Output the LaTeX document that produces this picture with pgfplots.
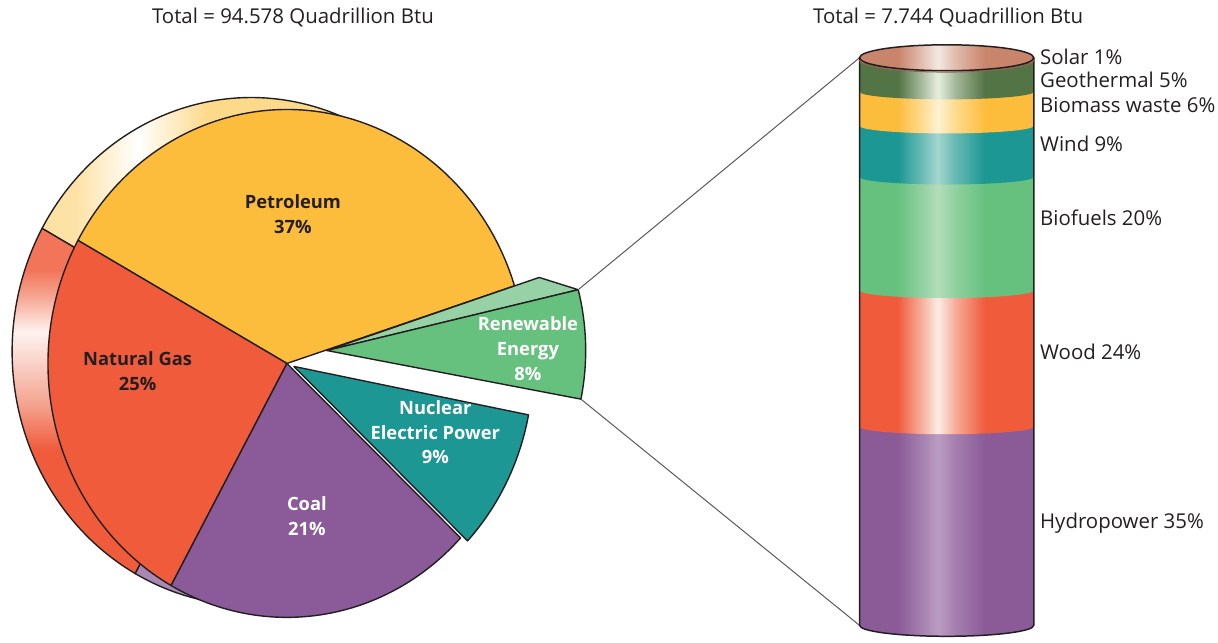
\documentclass[border=0pt]{standalone}
\usepackage{pgfplots}
\pgfplotsset{compat=1.18}
\usepackage{pgfplotstable}
\usepackage{fontspec}
\setmainfont{Open Sans}

\definecolor{petro}{HTML}{FCBD3C}
\definecolor{petroside}{HTML}{FDD98A}
\definecolor{gas}{HTML}{F05B3C}
\definecolor{gasL}{HTML}{F5A894}
\definecolor{coal}{HTML}{8A5B98}
\definecolor{coalside}{HTML}{A888B2}
\definecolor{nuc}{HTML}{1C9794}
\definecolor{ren}{HTML}{67C17E}
\definecolor{renside}{HTML}{96D2A5}
\definecolor{txt}{HTML}{231F20}
\definecolor{hydro}{HTML}{8B5B98}
\definecolor{hydroL}{HTML}{BA9CC2}
\definecolor{wood}{HTML}{F05B3C}
\definecolor{woodL}{HTML}{FBEDE4}
\definecolor{biof}{HTML}{66C17F}
\definecolor{biofL}{HTML}{B2DDBA}
\definecolor{wind}{HTML}{1C9794}
\definecolor{windL}{HTML}{A3D6CE}
\definecolor{biom}{HTML}{FDBD3C}
\definecolor{biomL}{HTML}{FDF2D2}
\definecolor{geo}{HTML}{537444}
\definecolor{geoL}{HTML}{E6EEDF}
\definecolor{solar}{HTML}{C9846C}
\definecolor{solarL}{HTML}{F3E9E2}

\newcommand\cylshade[3]{%
  \pgfdeclarehorizontalshading{#1}{100bp}{color(0bp)=(#2); color(36bp)=(#2); color(42.5bp)=(#2!45!#3); color(47.5bp)=(#3); color(52.5bp)=(#2!45!#3); color(61bp)=(#2); color(100bp)=(#2)}}
\cylshade{shHydro}{hydro}{hydroL}
\cylshade{shWood}{wood}{woodL}
\cylshade{shBiof}{biof}{biofL}
\cylshade{shWind}{wind}{windL}
\cylshade{shBiom}{biom}{biomL}
\cylshade{shGeo}{geo}{geoL}
\cylshade{shSolar}{solar}{solarL}
\pgfdeclarehorizontalshading{shPetSide}{100bp}{color(0bp)=(petroside); color(29bp)=(petroside!75!white); color(36bp)=(white); color(44bp)=(petroside); color(100bp)=(petroside)}
\pgfdeclareverticalshading{shGasSide}{100bp}{color(0bp)=(gas); color(43bp)=(gas); color(50bp)=(gasL); color(60bp)=(white!92!gas); color(65bp)=(gasL); color(69bp)=(gas!85!white); color(100bp)=(gas!85!white)}

\pgfplotstableread{
source pct
Renewable 8
Petroleum 37
NaturalGas 25
Coal 21
Nuclear 9
}\piedata
\pgfplotstableread{
x Hydropower Wood Biofuels Wind Biomass Geothermal Solar
0 35 24 20 9 6 5 1
}\cyldata

\begin{document}
\begin{tikzpicture}[font=\fontsize{10.25}{12}\selectfont]
\pgfplotstablegetelem{0}{pct}\of\piedata \let\pRen\pgfplotsretval
\pgfplotstablegetelem{1}{pct}\of\piedata \let\pPet\pgfplotsretval
\pgfplotstablegetelem{2}{pct}\of\piedata \let\pGas\pgfplotsretval
\pgfplotstablegetelem{3}{pct}\of\piedata \let\pCoal\pgfplotsretval
\pgfplotstablegetelem{4}{pct}\of\piedata \let\pNuc\pgfplotsretval
\pgfmathsetmacro\aA{-11}
\pgfmathsetmacro\aB{\aA+3.6*\pRen}
\pgfmathsetmacro\aC{\aB+3.6*\pPet}
\pgfmathsetmacro\aD{\aC+3.6*\pGas}
\pgfmathsetmacro\aE{\aD+3.6*\pCoal}
\pgfmathsetmacro\aF{\aE+3.6*\pNuc}
\pgfmathsetmacro\aM{\aB-4}
\pgfmathsetmacro\aT{\aB+1.5}
\def\RR{120pt and 127.5pt}
\def\RX{120pt}\def\RY{127.5pt}
\def\QQ{130pt and 128pt}
\def\QX{130pt}\def\QY{128pt}
\def\QS{113pt and 111pt}
%
\pgfplotstablegetelem{0}{Hydropower}\of\cyldata \let\cA\pgfplotsretval
\pgfplotstablegetelem{0}{Wood}\of\cyldata \let\cB\pgfplotsretval
\pgfplotstablegetelem{0}{Biofuels}\of\cyldata \let\cC\pgfplotsretval
\pgfplotstablegetelem{0}{Wind}\of\cyldata \let\cD\pgfplotsretval
\pgfplotstablegetelem{0}{Biomass}\of\cyldata \let\cE\pgfplotsretval
\pgfplotstablegetelem{0}{Geothermal}\of\cyldata \let\cF\pgfplotsretval
\pgfplotstablegetelem{0}{Solar}\of\cyldata \let\cG\pgfplotsretval
\pgfmathsetmacro\sA{\cA}
\pgfmathsetmacro\sB{\sA+\cB}
\pgfmathsetmacro\sC{\sB+\cC}
\pgfmathsetmacro\sD{\sC+\cD}
\pgfmathsetmacro\sE{\sD+\cE}
\pgfmathsetmacro\sF{\sE+\cF}
\pgfmathsetmacro\sG{\sF+\cG}

% ---------------- main axis: pie, titles, labels -----------------
\begin{axis}[x=0.5pt, y=0.5pt, xmin=0, xmax=1218, ymin=0, ymax=641,
  hide axis, clip=false, anchor=south west, at={(0,0)}]
\path (axis cs:0,0) rectangle (axis cs:1218,641);
% side (3D) copies
\draw[line width=.7pt, draw=txt, shading=shPetSide, shade]
  ([shift={(-18pt,6pt)}]axis cs:283,276) -- ++(\aB:\RR) arc[start angle=\aB, end angle=\aC, x radius=\RX, y radius=\RY] -- cycle;
\draw[line width=.7pt, draw=txt, shading=shGasSide, shade]
  ([shift={(-18pt,6pt)}]axis cs:283,276) -- ++(\aC:\RR) arc[start angle=\aC, end angle=\aD, x radius=\RX, y radius=\RY] -- cycle;
\draw[line width=.7pt, draw=txt, fill=coalside]
  ([shift={(-18pt,6pt)}]axis cs:283,276) -- ++(\aD:\RR) arc[start angle=\aD, end angle=\aE, x radius=\RX, y radius=\RY] -- cycle;
% main faces
\draw[line width=.7pt, draw=txt, fill=petro, line join=round]
  (axis cs:283,276) -- ++(\aB:\RR) arc[start angle=\aB, end angle=\aC, x radius=\RX, y radius=\RY] -- cycle;
\draw[line width=.7pt, draw=txt, fill=gas, line join=round]
  (axis cs:283,276) -- ++(\aC:\RR) arc[start angle=\aC, end angle=\aD, x radius=\RX, y radius=\RY] -- cycle;
\draw[line width=.7pt, draw=txt, fill=coal, line join=round]
  (axis cs:283,276) -- ++(\aD:\RR) arc[start angle=\aD, end angle=\aE, x radius=\RX, y radius=\RY] -- cycle;
\draw[line width=.7pt, draw=txt, fill=nuc, line join=round]
  ([shift={(3.5pt,-1.5pt)}]axis cs:283,276) -- ++(\aE:\RR) arc[start angle=\aE, end angle=\aF, x radius=\RX, y radius=\RY] -- cycle;
% renewable (exploded)
\coordinate (rtip) at ([shift={(20pt,6.5pt)}]axis cs:283,276);
\draw[line width=.7pt, draw=txt, fill=renside, line join=round]
  (rtip) -- ([shift={(\aT:\QS)}]rtip) -- ([shift={(\aM:\QQ)}]rtip) -- cycle;
\draw[line width=.7pt, draw=txt, fill=ren, line join=round]
  (rtip) -- ++(\aA:\QQ) coordinate (rbot) arc[start angle=\aA, end angle=\aM, x radius=\QX, y radius=\QY] coordinate (rtop) -- cycle;
% connectors
\draw[line width=.5pt, draw=black!65] (rtop) -- (axis cs:858,583);
\draw[line width=.5pt, draw=black!65] (rbot) -- (axis cs:858,13);
% slice labels
\begin{scope}[font=\bfseries\fontsize{9.2}{12.5}\selectfont]
\node[align=center, text=txt] at (axis cs:289,426) {Petroleum\\37\%};
\node[align=center, text=txt] at (axis cs:133,268) {Natural Gas\\25\%};
\node[align=center, text=white] at (axis cs:303,123) {Coal\\21\%};
\node[align=center, text=white] at (axis cs:432,207) {Nuclear\\Electric Power\\9\%};
\node[align=center, text=white] at (axis cs:525,291) {Renewable\\Energy\\8\%};
\end{scope}
% titles
\node[text=txt] at (axis cs:289,623) {Total = 94.578 Quadrillion Btu};
\node[text=txt] at (axis cs:947,623) {Total = 7.744 Quadrillion Btu};
% cylinder labels
\begin{scope}[every node/.style={anchor=west, text=txt, inner sep=0pt}]
\node at (axis cs:1039,584) {Solar 1\%};
\node at (axis cs:1039,561) {Geothermal 5\%};
\node at (axis cs:1039,535) {Biomass waste 6\%};
\node at (axis cs:1039,497) {Wind 9\%};
\node at (axis cs:1039,422) {Biofuels 20\%};
\node at (axis cs:1039,288) {Wood 24\%};
\node at (axis cs:1039,116) {Hydropower 35\%};
\end{scope}
\end{axis}

% ---------------- cylinder: stacked bar -----------------
\begin{axis}[at={(429pt,6.5pt)}, anchor=south west, width=87.5pt, height=285pt,
  scale only axis, hide axis, clip=false, xmin=-0.5, xmax=0.5, ymin=0, ymax=100,
  ybar stacked, bar width=87.5pt]
\addplot[draw=none, shade, shading=shHydro] table[x=x, y=Hydropower]{\cyldata};
\addplot[draw=none, shade, shading=shWood] table[x=x, y=Wood]{\cyldata};
\addplot[draw=none, shade, shading=shBiof] table[x=x, y=Biofuels]{\cyldata};
\addplot[draw=none, shade, shading=shWind] table[x=x, y=Wind]{\cyldata};
\addplot[draw=none, shade, shading=shBiom] table[x=x, y=Biomass]{\cyldata};
\addplot[draw=none, shade, shading=shGeo] table[x=x, y=Geothermal]{\cyldata};
\addplot[draw=none, shade, shading=shSolar] table[x=x, y=Solar]{\cyldata};
\end{axis}

% ---------------- cylinder: curved band edges, outline, cap -----------------
\begin{axis}[at={(429pt,6.5pt)}, anchor=south west, width=87.5pt, height=285pt,
  scale only axis, hide axis, clip=false, xmin=-0.5, xmax=0.5, ymin=0, ymax=100]
\path[shade, shading=shHydro] (axis cs:-0.5,0) arc[start angle=180, end angle=360, x radius=43.75pt, y radius=5.5pt] -- cycle;
\path[shade, shading=shWood] ([yshift=0.8pt]axis cs:-0.5,\sA) -- (axis cs:-0.5,\sA) arc[start angle=180, end angle=360, x radius=43.75pt, y radius=3.8pt] -- ([yshift=0.8pt]axis cs:0.5,\sA) -- cycle;
\path[shade, shading=shBiof] ([yshift=0.8pt]axis cs:-0.5,\sB) -- (axis cs:-0.5,\sB) arc[start angle=180, end angle=360, x radius=43.75pt, y radius=3.8pt] -- ([yshift=0.8pt]axis cs:0.5,\sB) -- cycle;
\path[shade, shading=shWind] ([yshift=0.8pt]axis cs:-0.5,\sC) -- (axis cs:-0.5,\sC) arc[start angle=180, end angle=360, x radius=43.75pt, y radius=3.8pt] -- ([yshift=0.8pt]axis cs:0.5,\sC) -- cycle;
\path[shade, shading=shBiom] ([yshift=0.8pt]axis cs:-0.5,\sD) -- (axis cs:-0.5,\sD) arc[start angle=180, end angle=360, x radius=43.75pt, y radius=3.8pt] -- ([yshift=0.8pt]axis cs:0.5,\sD) -- cycle;
\path[shade, shading=shGeo] ([yshift=0.8pt]axis cs:-0.5,\sE) -- (axis cs:-0.5,\sE) arc[start angle=180, end angle=360, x radius=43.75pt, y radius=3.8pt] -- ([yshift=0.8pt]axis cs:0.5,\sE) -- cycle;
% outline
\draw[line width=.75pt, draw=txt] (axis cs:-0.5,\sG) -- (axis cs:-0.5,0) arc[start angle=180, end angle=360, x radius=43.75pt, y radius=5.5pt] -- (axis cs:0.5,\sG);
% top cap (solar)
\draw[line width=.75pt, draw=txt, shade, shading=shSolar] (axis cs:0,\sG) ellipse[x radius=43.75pt, y radius=6.5pt];
\draw[line width=.5pt, draw=solar!75!black] ([yshift=-1.2pt]axis cs:-0.5,\sG) arc[start angle=180, end angle=360, x radius=43.75pt, y radius=6pt];
\end{axis}
\end{tikzpicture}
\end{document}
